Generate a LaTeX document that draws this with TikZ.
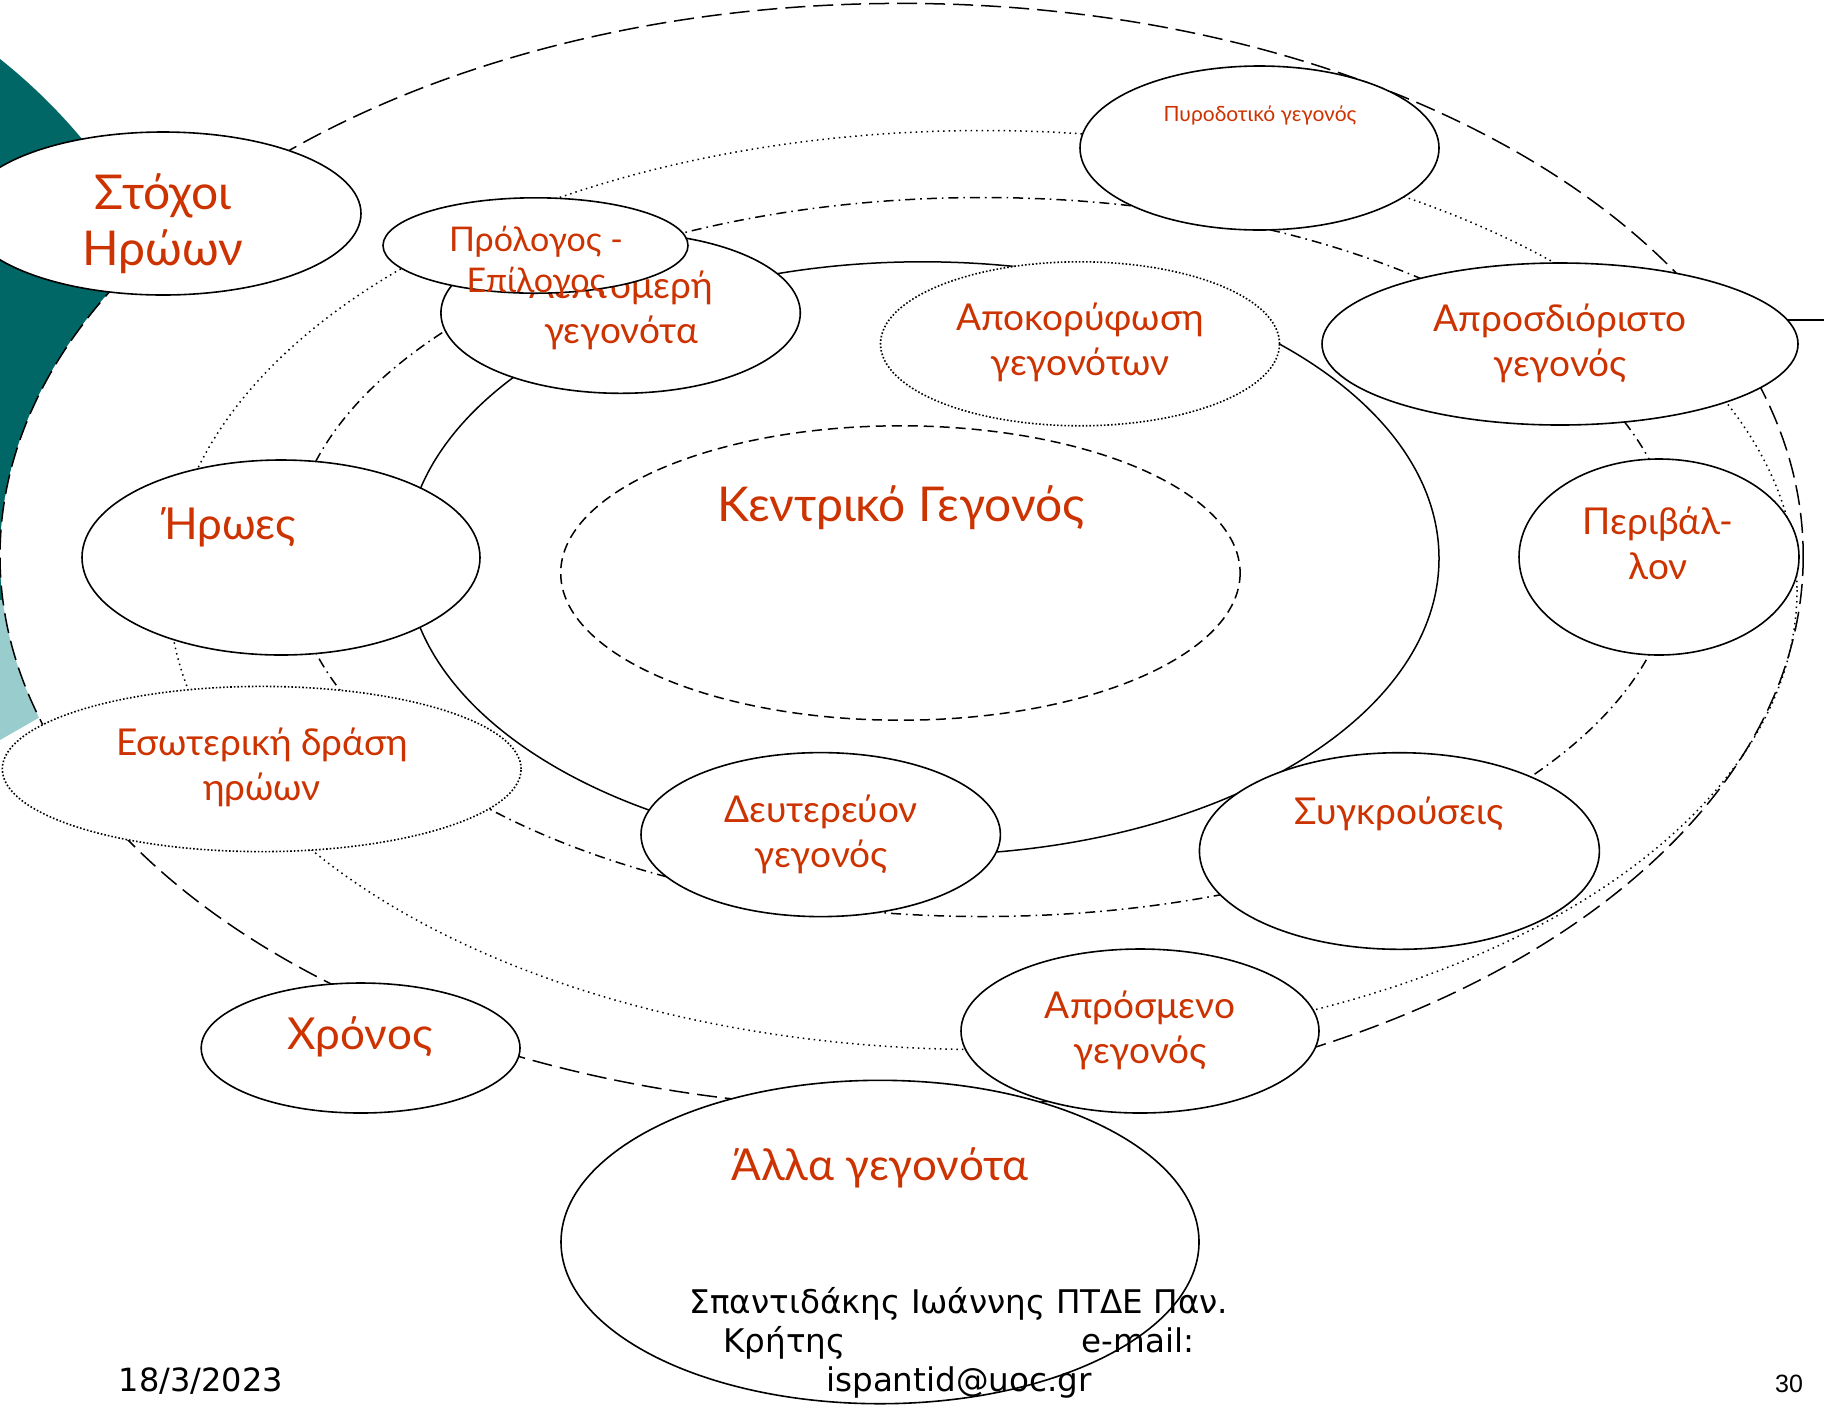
\documentclass[tikz,border=0pt]{standalone}
\usepackage{fontspec}
\setmainfont{Lato}
\newfontfamily\footfont{DejaVu Sans}
\newfontfamily\pagefont{Liberation Sans}
\usetikzlibrary{shapes.geometric}
\definecolor{evred}{RGB}{204,51,0}
\definecolor{darkteal}{RGB}{0,102,102}
\definecolor{lightteal}{RGB}{153,204,204}

\begin{document}
\begin{tikzpicture}[x=0.5pt,y=-0.5pt,
  ev/.style={ellipse,draw,fill=white,line width=0.8pt,inner sep=0pt},
  lbl/.style={text=evred,align=center,inner sep=0pt},
  bigtxt/.style={font=\fontsize{24}{28}\selectfont},
  largetxt/.style={font=\fontsize{22}{26}\selectfont},
  midtxt/.style={font=\fontsize{18.5}{22.5}\selectfont},
  prtxt/.style={font=\fontsize{17}{20.5}\selectfont},
  smalltxt/.style={font=\fontsize{10.5}{13}\selectfont},
  ring/.style={line width=0.75pt}]

\useasboundingbox[fill=white] (0,0) rectangle (1824,1404);

\begin{scope}
  \clip (0,0) rectangle (1824,600);
  \fill[darkteal] (-350,500) circle [radius=563];
\end{scope}
\fill[lightteal] (0,600) -- (150,600) -- (150,654) -- (0,740) -- cycle;

\fill[white] (901.6,556) ellipse [x radius=901.6, y radius=552.6];
\draw[ring,dash pattern=on 10pt off 4pt]
  (901.6,556) ellipse [x radius=901.6, y radius=552.6];
\draw[ring,dotted]
  (983,590) ellipse [x radius=814, y radius=459.5];
\draw[ring,dash pattern=on 5pt off 2.5pt on 0.8pt off 2.5pt]
  (983,557) ellipse [x radius=692, y radius=359.5];
\draw[ring]
  (922.5,558.4) ellipse [x radius=516.5, y radius=296.6];
\draw[ring,dash pattern=on 5pt off 3pt]
  (900.4,573) ellipse [x radius=339.7, y radius=147.2];

\node[lbl,bigtxt] (kentr-t) at (901,508) {Κεντρικό Γεγονός};

\foreach \nm/\Xc/\Yc/\rx/\ry in {stoxoi/163/213.5/198/81.5,
  lept/620.6/313/179.7/80.3, pyro/1259.5/148/179.5/82,
  aprosd/1560/344/238/81, heroes/281/557.5/199/97.5,
  perib/1659/557/140/98, deut/820.7/834.6/179.7/82,
  sygk/1399.4/851/200/98.3, xronos/360.6/1048/159.4/65,
  apros/1140/1031/179/82, alla/880/1242/319/161.7}
{
  \node[ev,minimum width=\rx pt,minimum height=\ry pt] (\nm) at (\Xc,\Yc) {};
}
\node[ev,densely dotted,minimum width=199.5pt,minimum height=82pt] (akme) at (1080,343.8) {};
\node[ev,densely dotted,minimum width=259.4pt,minimum height=82.6pt] (esot) at (261.7,769) {};

\node[lbl,midtxt] (lept-t) at (621,310) {Λεπτομερή\\γεγονότα};
\node[ev,minimum width=152.5pt,minimum height=47.7pt] (prol) at (535.5,245.5) {};
\node[lbl,prtxt] (prol-t) at (536,262) {Πρόλογος -\\Επίλογος};

\node[lbl,bigtxt] (stoxoi-t) at (163,224) {Στόχοι\\Ηρώων};
\node[lbl,smalltxt] (pyro-t) at (1260,115) {Πυροδοτικό γεγονός};
\node[lbl,midtxt] (akme-t) at (1080,342) {Αποκορύφωση\\γεγονότων};
\node[lbl,midtxt] (aprosd-t) at (1560,343) {Απροσδιόριστο\\γεγονός};
\node[lbl,largetxt] (heroes-t) at (230,527) {Ήρωες};
\node[lbl,midtxt] (perib-t) at (1658,543) {Περιβάλ-\\λον};
\node[lbl,midtxt] (esot-t) at (262,767) {Εσωτερική δράση\\ηρώων};
\node[lbl,midtxt] (deut-t) at (821,834) {Δευτερεύον\\γεγονός};
\node[lbl,midtxt] (sygk-t) at (1399,814) {Συγκρούσεις};
\node[lbl,largetxt] (xronos-t) at (360,1037) {Χρόνος};
\node[lbl,midtxt] (apros-t) at (1140,1030) {Απρόσμενο\\γεγονός};
\node[lbl,largetxt] (alla-t) at (880,1168) {Άλλα γεγονότα};

\coordinate (edge) at (1824,320);
\draw[line width=0.8pt] (aprosd.6) -- (aprosd.6 -| edge);

\node[align=center,inner sep=0pt,font=\footfont\fontsize{16.3}{19.5}\selectfont]
  (footer) at (959,1343) {Σπαντιδάκης Ιωάννης ΠΤΔΕ Παν.\\Κρήτης\hspace{118pt}e-mail:\\ispantid@uoc.gr};
\node[inner sep=0pt,font=\footfont\fontsize{16}{19}\selectfont] (date) at (201,1381) {18/3/2023};
\node[inner sep=0pt,font=\pagefont\fontsize{12.5}{15}\selectfont] (page) at (1789,1384) {30};
\end{tikzpicture}
\end{document}
